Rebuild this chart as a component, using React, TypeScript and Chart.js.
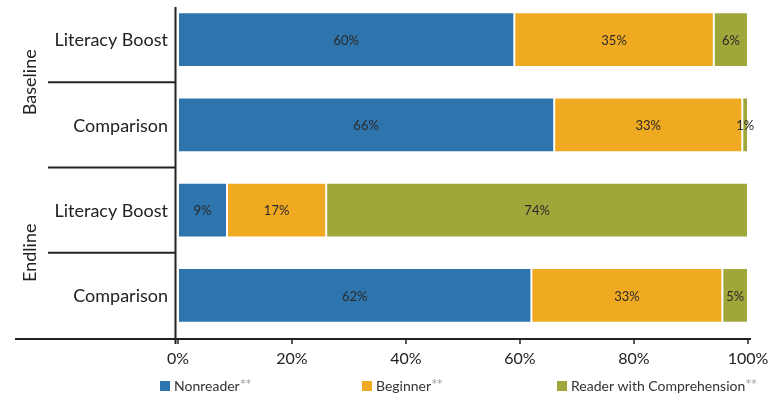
import React, { useEffect, useRef } from 'react';
import { Chart, registerables } from 'chart.js';
Chart.register(...registerables);

const categories = ['Literacy Boost', 'Comparison', 'Literacy Boost', 'Comparison'];
const groups = ['Baseline', 'Endline'];
const seriesNames = ['Nonreader', 'Beginner', 'Reader with Comprehension'];
const nonreader = [59, 66, 8.6, 62];
const beginner = [35, 33, 17.4, 33.5];
const reader = [6, 1, 74, 4.5];
const nonreaderLabels = ['60%', '66%', '9%', '62%'];
const beginnerLabels = ['35%', '33%', '17%', '33%'];
const readerLabels = ['6%', '1%', '74%', '5%'];
const xTicks = [0, 20, 40, 60, 80, 100];

const COLORS = ['#2E75AE', '#EFAA22', '#9FA73B'];
const FONT = 'Lato, "Open Sans", sans-serif';
const LINE = '#222';

export default function App() {
  const ref = useRef<HTMLCanvasElement | null>(null);
  useEffect(() => {
    if (!ref.current) return;
    const labelSets = [nonreaderLabels, beginnerLabels, readerLabels];
    const decor = {
      id: 'decor',
      afterDraw(chart: any) {
        const ctx = chart.ctx;
        const area = chart.chartArea;
        const y = chart.scales.y;
        const x = chart.scales.x;
        ctx.save();
        // data labels
        ctx.font = `13px ${FONT}`;
        ctx.fillStyle = '#2a2a2a';
        ctx.textAlign = 'center';
        ctx.textBaseline = 'middle';
        chart.data.datasets.forEach((ds: any, di: number) => {
          const meta = chart.getDatasetMeta(di);
          meta.data.forEach((bar: any, i: number) => {
            ctx.fillText(labelSets[di][i], (bar.x + bar.base) / 2, bar.y + 1);
          });
        });
        // category labels
        ctx.font = `18px ${FONT}`;
        ctx.fillStyle = '#222';
        ctx.textAlign = 'right';
        categories.forEach((c, i) => {
          ctx.fillText(c, area.left - 10, y.getPixelForValue(i) + 1);
        });
        // lines
        ctx.strokeStyle = LINE;
        ctx.lineWidth = 2;
        const step = y.getPixelForValue(1) - y.getPixelForValue(0);
        const axX = area.left - 2.5;
        const bottom = y.getPixelForValue(categories.length - 1) + step / 2 + 1;
        ctx.beginPath();
        ctx.moveTo(axX, 10);
        ctx.lineTo(axX, bottom + 5);
        ctx.stroke();
        for (let i = 0; i < categories.length - 1; i++) {
          const yb = (y.getPixelForValue(i) + y.getPixelForValue(i + 1)) / 2;
          ctx.beginPath();
          ctx.moveTo(48, yb);
          ctx.lineTo(axX, yb);
          ctx.stroke();
        }
        ctx.beginPath();
        ctx.moveTo(15, bottom);
        ctx.lineTo(area.right + 3, bottom);
        ctx.stroke();
        ctx.lineWidth = 1.5;
        xTicks.forEach((t) => {
          const px = x.getPixelForValue(t);
          ctx.beginPath();
          ctx.moveTo(px, bottom);
          ctx.lineTo(px, bottom + 5);
          ctx.stroke();
        });
        // group labels
        ctx.font = `18px ${FONT}`;
        ctx.fillStyle = '#222';
        groups.forEach((g, gi) => {
          const cy = (y.getPixelForValue(gi * 2) + y.getPixelForValue(gi * 2 + 1)) / 2;
          ctx.save();
          ctx.translate(30, cy);
          ctx.rotate(-Math.PI / 2);
          ctx.textAlign = 'center';
          ctx.textBaseline = 'middle';
          ctx.fillText(g, 0, 0);
          ctx.restore();
        });
        // legend
        const legX = [160, 362, 557];
        const legY = 389;
        seriesNames.forEach((name, i) => {
          ctx.fillStyle = COLORS[i];
          ctx.fillRect(legX[i], legY - 5, 10, 10);
          ctx.font = `14px ${FONT}`;
          ctx.fillStyle = '#333';
          ctx.textAlign = 'left';
          ctx.textBaseline = 'middle';
          const tx = legX[i] + 14;
          ctx.fillText(name, tx, legY);
          const w = ctx.measureText(name).width;
          ctx.font = `11px "DejaVu Sans", sans-serif`;
          ctx.fillStyle = '#a0a0a0';
          ctx.fillText('**', tx + w + 0.5, legY - 2);
        });
        ctx.restore();
      },
    };
    const chart = new Chart(ref.current, {
      type: 'bar',
      data: {
        labels: categories,
        datasets: [nonreader, beginner, reader].map((d, i) => ({
          label: seriesNames[i],
          data: d,
          backgroundColor: COLORS[i],
          borderColor: 'rgba(255,255,255,0.85)',
          borderWidth: 1,
          borderSkipped: false,
          categoryPercentage: 1,
          barPercentage: 0.645,
        })),
      },
      options: {
        indexAxis: 'y',
        animation: false,
        responsive: false,
        layout: { padding: { left: 0, right: 35, top: 0, bottom: 0 } },
        plugins: { legend: { display: false }, tooltip: { enabled: false } },
        scales: {
          x: {
            stacked: true,
            min: 0,
            max: 100,
            afterBuildTicks: (axis: any) => {
              axis.ticks = xTicks.map((v) => ({ value: v }));
            },
            afterFit: (axis: any) => {
              axis.height = 63;
            },
            ticks: {
              callback: (v: any) => `${v}%`,
              font: { family: FONT, size: 16 },
              color: '#222',
              padding: 11,
              maxRotation: 0,
            },
            grid: { display: false, drawTicks: false },
            border: { display: false },
          },
          y: {
            stacked: true,
            afterFit: (axis: any) => {
              axis.width = 178;
            },
            ticks: { display: false },
            grid: { display: false, drawTicks: false },
            border: { display: false },
          },
        },
      },
      plugins: [decor],
    } as any);
    return () => chart.destroy();
  }, []);
  return (
    <div style={{ position: 'absolute', left: 0, top: -3, width: 783, height: 404, background: '#fff' }}>
      <canvas ref={ref} width={783} height={404} style={{ width: 783, height: 404 }} />
    </div>
  );
}
